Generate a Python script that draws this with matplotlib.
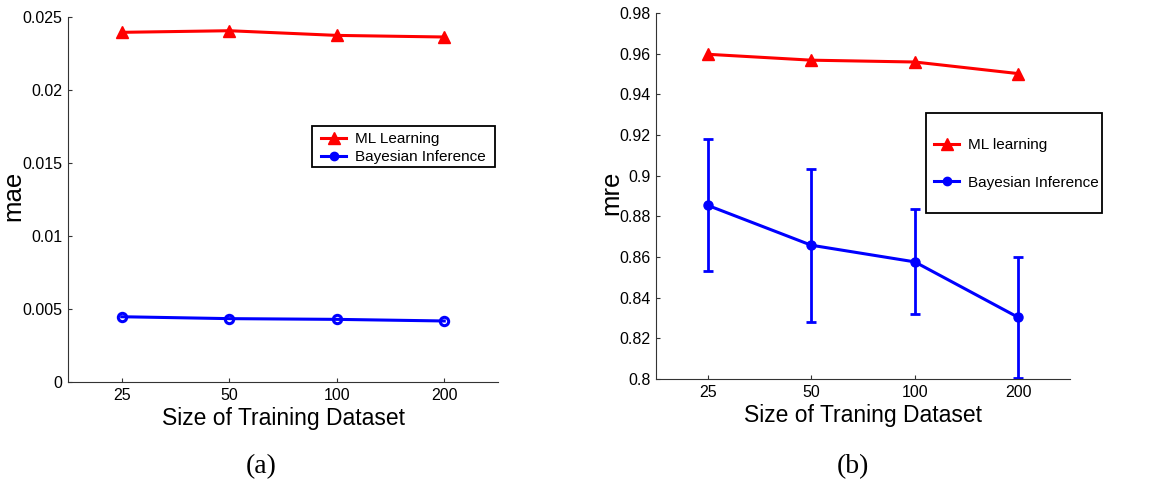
import matplotlib
matplotlib.use("Agg")
import matplotlib.pyplot as plt
import matplotlib.patches as patches
from matplotlib.lines import Line2D
import numpy as np

sizes = ["25", "50", "100", "200"]

# (a) mean absolute error
mae_ml = [0.02395, 0.02406, 0.02374, 0.02363]
mae_bayes = [0.00447, 0.00434, 0.00429, 0.00418]

# (b) mean relative error
mre_ml = [0.9597, 0.9568, 0.9559, 0.9502]
mre_bayes = [0.8854, 0.8658, 0.8576, 0.8303]
mre_bayes_err = [0.0325, 0.0377, 0.0258, 0.0298]

plt.rcParams["font.family"] = ["Liberation Sans", "DejaVu Sans"]

W, H = 1166, 480
fig = plt.figure(figsize=(W / 100, H / 100), dpi=100)
ax1 = fig.add_axes([68 / W, 1 - 382 / H, 430 / W, 365 / H])
ax2 = fig.add_axes([656 / W, 1 - 379 / H, 414 / W, 366 / H])

x = np.arange(1, len(sizes) + 1)
red = "#ff0000"
blue = "#0000ff"

ax1.plot(x, mae_ml, color=red, lw=2.2, marker="^", ms=8)
ax1.plot(x, mae_bayes, color=blue, lw=2.2, marker="o", ms=6, mfc="none", mew=2.2)
ax1.set_ylim(0, 0.025)
ax1.set_yticks([0, 0.005, 0.01, 0.015, 0.02, 0.025])
ax1.set_yticklabels(["0", "0.005", "0.01", "0.015", "0.02", "0.025"])
ax1.set_ylabel("mae", fontsize=18.5)
ax1.yaxis.set_label_coords(-0.1, 0.51)
ax1.set_xlabel("Size of Training Dataset", fontsize=16.5, labelpad=3)

ax2.plot(x, mre_ml, color=red, lw=2.2, marker="^", ms=8)
ax2.errorbar(x, mre_bayes, yerr=mre_bayes_err, fmt="none", ecolor=blue,
             elinewidth=2, capsize=3.5, capthick=2)
ax2.plot(x, mre_bayes, color=blue, lw=2.2, marker="o", ms=6.5)
ax2.set_ylim(0.8, 0.98)
ax2.set_yticks(np.arange(0.8, 0.981, 0.02))
ax2.set_yticklabels(["0.8", "0.82", "0.84", "0.86", "0.88", "0.9", "0.92", "0.94",
                     "0.96", "0.98"])
ax2.set_ylabel("mre", fontsize=18.5)
ax2.yaxis.set_label_coords(-0.08, 0.51)
ax2.set_xlabel("Size of Traning Dataset", fontsize=16.5, labelpad=3)

for ax in (ax1, ax2):
    ax.set_xlim(0.5, 4.5)
    ax.set_xticks(x)
    ax.set_xticklabels(sizes)
    ax.spines["top"].set_visible(False)
    ax.spines["right"].set_visible(False)
    for s in ("left", "bottom"):
        ax.spines[s].set_color("#333333")
    ax.tick_params(direction="in", length=3, labelsize=11.5, pad=4, color="#333333")


def legend_box(labels, markers, fill, box, anchor, spacing):
    # box: left, top, right, bottom in pixels; anchor: handle start x, rows center y
    handles = [Line2D([], [], color=red, lw=2.2, marker=markers[0], ms=8),
               Line2D([], [], color=blue, lw=2.2, marker=markers[1], ms=6,
                      mfc=fill)]
    fig.legend(handles, labels, loc="center left",
               bbox_to_anchor=(anchor[0] / W, 1 - anchor[1] / H),
               bbox_transform=fig.transFigure, frameon=False, fontsize=11,
               borderpad=0, borderaxespad=0, handlelength=1.65, handletextpad=0.55,
               labelspacing=spacing)
    l, t, r, b = box
    fig.patches.append(patches.Rectangle((l / W, 1 - b / H), (r - l) / W, (b - t) / H,
                                         transform=fig.transFigure, fill=False,
                                         edgecolor="black", lw=1.3))


legend_box(["ML Learning", "Bayesian Inference"], ["^", "o"], blue,
           (312, 126, 495, 167), (321, 148), 0.25)
legend_box(["ML learning", "Bayesian Inference"], ["^", "o"], blue,
           (926, 113, 1102, 213), (934, 164), 1.55)

fig.text(261 / W, 1 - 467 / H, "(a)", ha="center", va="center", fontsize=20,
         family="Liberation Serif")
fig.text(853 / W, 1 - 467 / H, "(b)", ha="center", va="center", fontsize=20,
         family="Liberation Serif")

fig.savefig("out.png", dpi=100)
